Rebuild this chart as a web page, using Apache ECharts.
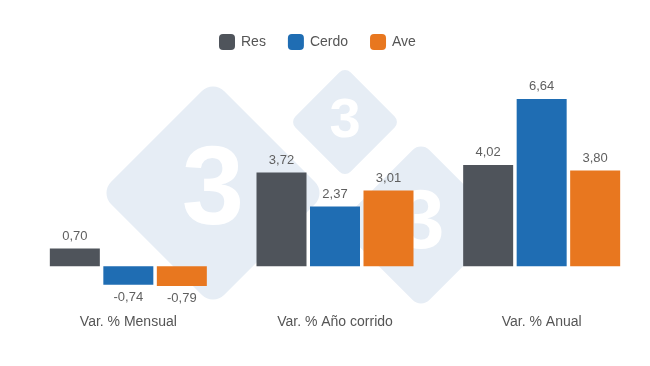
<!DOCTYPE html>
<html><head><meta charset="utf-8">
<script src="https://cdn.jsdelivr.net/npm/echarts@6/dist/echarts.min.js"></script>
<style>html,body{margin:0;padding:0;background:#fff}#c{width:650px;height:366px}</style>
</head><body><div id="c"></div>
<script>
const categories = ['Var. % Mensual', 'Var. % Año corrido', 'Var. % Anual'];
const seriesNames = ['Res', 'Cerdo', 'Ave'];
const res = [0.70, 3.72, 4.02];
const cerdo = [-0.74, 2.37, 6.64];
const ave = [-0.79, 3.01, 3.80];
const colors = ['#4f545b', '#1f6db3', '#e8771f'];

const font = 'Liberation Sans, Arial, sans-serif';
function diamond(cx, cy, s, fs) {
  return [
    { type: 'rect', x: cx, y: cy, rotation: Math.PI / 4, z: 0,
      shape: { x: -s / 2, y: -s / 2, width: s, height: s, r: s * 0.1 },
      style: { fill: '#e6edf5' }, silent: true },
    { type: 'text', x: cx, y: cy, z: 1,
      style: { text: '3', fill: '#ffffff', fontSize: fs, fontWeight: 'bold', fontFamily: font,
               align: 'center', verticalAlign: 'middle' }, silent: true }
  ];
}
const series = [res, cerdo, ave].map((d, i) => ({
  name: seriesNames[i], type: 'bar', barWidth: 50, barGap: '7%', z: 5,
  itemStyle: { color: colors[i] },
  label: {
    show: true, color: '#5f5f5f', fontSize: 13, fontFamily: font, distance: 6,
    position: 'top',
    formatter: p => p.value.toFixed(2).replace('.', ',')
  },
  data: d.map(v => v < 0 ? { value: v, label: { position: 'bottom' } } : v)
}));
const chart = echarts.init(document.getElementById('c'));
chart.setOption({
  animation: false,
  color: colors,
  textStyle: { fontFamily: font },
  legend: {
    top: 29, left: 214, icon: 'roundRect', itemWidth: 16, itemHeight: 16, itemGap: 22,
    textStyle: { color: '#555', fontSize: 14, fontFamily: font, padding: [0, 0, 0, 1] },
    data: seriesNames
  },
  graphic: [].concat(diamond(213, 193, 160, 112), diamond(345, 122, 78, 56), diamond(421, 225, 118, 84)),
  grid: { left: 25, right: 5, top: 90, bottom: 62, containLabel: false },
  xAxis: {
    type: 'category', data: categories,
    axisLine: { show: false }, axisTick: { show: false },
    axisLabel: { color: '#555', fontSize: 14, fontFamily: font, margin: 11 }
  },
  yAxis: {
    type: 'value', min: -1.5, max: 7, show: false,
    splitLine: { show: false }
  },
  series: series
});
</script></body></html>
